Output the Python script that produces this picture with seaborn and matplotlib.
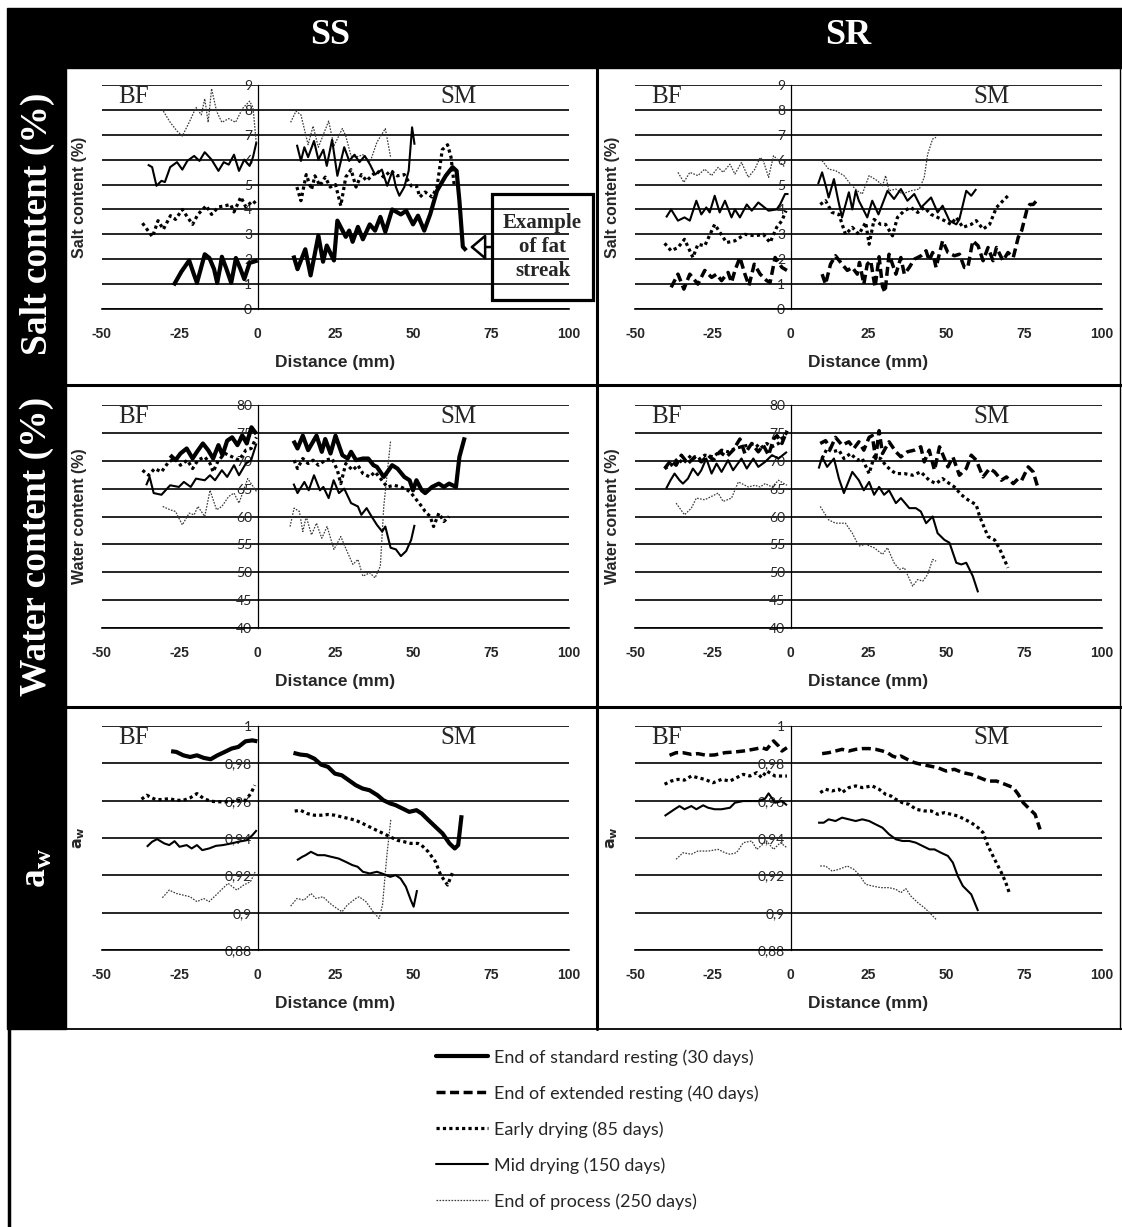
import matplotlib
matplotlib.use("Agg")
import matplotlib.pyplot as plt
from matplotlib.patches import Rectangle
from matplotlib.lines import Line2D
import numpy as np
import pandas as pd
import seaborn as sns

#%% Data (distance in mm, BF = negative side, SM = positive side)

# ---- SS, salt content (%)
ss_salt_30_bf_x = [-27, -24.5, -22, -20.5, -19.5, -18.3, -17, -15.5, -14, -13, -12, -11.5, -10, -8.5, -7.5, -7, -5.5, -4.3, -2.6, 0]
ss_salt_30_bf_y = [0.95, 1.5, 1.95, 1.4, 1.05, 1.6, 2.2, 2.05, 1.6, 1.05, 1.7, 2.1, 1.6, 1.05, 1.7, 2.05, 1.6, 1.2, 1.85, 1.95]
ss_salt_30_sm_x = [11.5, 12.8, 15.3, 17, 19.5, 21, 22.2, 24.5, 25.6, 28.3, 29.4, 30.5, 32.2, 33.8, 36, 37.7, 39.4, 41, 43.2, 46, 47.7, 49.9, 51.5, 53.5, 55.4, 57.6, 60.4, 62.6, 63.9, 64.8, 65.9, 67]
ss_salt_30_sm_y = [2.15, 1.6, 2.4, 1.35, 2.95, 1.9, 2.55, 1.95, 3.55, 2.9, 3.15, 2.7, 3.3, 2.8, 3.4, 3.15, 3.7, 3.1, 4.0, 3.8, 3.95, 3.4, 3.75, 3.15, 3.8, 4.75, 5.35, 5.7, 5.55, 4.35, 2.5, 2.35]
ss_salt_85_bf_x = [-37, -33.8, -32, -30.3, -28, -26.4, -24.2, -22.6, -20.9, -19.2, -16.5, -14.8, -12.6, -10.4, -8.7, -7.6, -5.4, -3.8, -1.5, 0]
ss_salt_85_bf_y = [3.45, 2.9, 3.55, 3.2, 3.75, 3.6, 4.0, 3.7, 3.4, 3.8, 4.15, 3.8, 4.1, 4.15, 4.2, 3.9, 4.5, 4.1, 4.35, 4.15]
ss_salt_85_sm_x = [12.6, 13.9, 15.6, 17.3, 18.4, 20, 21.7, 23.3, 25, 26.7, 28.3, 30, 31.6, 33.3, 35, 36.6, 38.3, 40.5, 42.7, 44.9, 47.1, 49.3, 51, 52.1, 53.8, 56, 57.6, 59.3, 61, 62.1, 63.2]
ss_salt_85_sm_y = [4.9, 4.35, 5.4, 4.8, 5.35, 4.95, 5.3, 4.9, 5.0, 4.15, 5.3, 5.6, 4.9, 5.4, 5.15, 5.35, 5.55, 5.3, 5.55, 5.35, 5.4, 4.95, 4.95, 4.5, 4.7, 4.5, 4.9, 6.4, 6.6, 6.1, 4.9]
ss_salt_150_bf_x = [-35.3, -33.9, -32.5, -30.9, -29.8, -28.1, -25.9, -24.2, -22.6, -20.4, -18.7, -17, -14.8, -12.6, -10.9, -9.3, -7.6, -6, -4.3, -2.6, -1.5, -0.4]
ss_salt_150_bf_y = [5.8, 5.7, 4.95, 5.15, 5.1, 5.7, 5.9, 5.6, 5.95, 6.15, 5.95, 6.3, 6.0, 5.55, 5.9, 5.8, 6.2, 5.55, 6.0, 5.75, 6.1, 6.7]
ss_salt_150_sm_x = [12.6, 13.9, 15, 16.2, 18.1, 19.5, 21.1, 22.2, 23.9, 25.6, 27.8, 29.4, 31.1, 32.7, 34.4, 36.1, 37.7, 39.9, 41.6, 43.3, 44.4, 45.5, 47.1, 48.5, 49.6, 50.4]
ss_salt_150_sm_y = [6.6, 5.95, 6.5, 6.1, 6.75, 6.0, 6.4, 5.75, 6.8, 5.35, 6.5, 5.95, 6.2, 5.9, 6.15, 5.8, 5.4, 5.6, 4.95, 5.55, 4.9, 4.55, 4.9, 5.55, 7.3, 6.6]
ss_salt_250_bf_x = [-30.3, -28.1, -25.9, -24.2, -22, -19.8, -18.1, -17, -15.9, -14.8, -13.2, -11.5, -9.3, -7.1, -4.9, -2.6, -1.5, -0.4]
ss_salt_250_bf_y = [7.95, 7.5, 7.15, 6.95, 7.5, 8.1, 7.8, 8.45, 7.5, 8.85, 7.95, 7.5, 7.65, 7.5, 8.05, 8.35, 8.1, 6.6]
ss_salt_250_sm_x = [10.6, 12.3, 13.9, 16.2, 17.8, 19.5, 22.8, 24.5, 27.2, 28.3, 30, 31.6, 33.8, 36.1, 38.3, 41, 42.7]
ss_salt_250_sm_y = [7.5, 7.95, 7.8, 6.6, 7.35, 6.5, 7.55, 6.55, 7.25, 6.95, 6.15, 6.1, 6.2, 5.9, 6.7, 7.25, 6.1]

# ---- SR, salt content (%)
sr_salt_40_bf_x = [-38.4, -36.2, -34.3, -32.4, -29.8, -27.6, -25.4, -23.8, -22.2, -20.1, -19, -17.9, -16.3, -14.7, -13.4, -11.7, -9.8, -7.7, -6.6, -5, -2.8, -1.2]
sr_salt_40_bf_y = [0.87, 1.4, 0.8, 1.4, 1.0, 1.55, 1.27, 1.4, 1.14, 1.47, 1.07, 1.55, 2.07, 1.4, 0.94, 1.8, 1.4, 1.14, 1.07, 2.07, 1.67, 1.55]
sr_salt_40_sm_x = [10.1, 11.2, 12.8, 14.4, 16.5, 18.2, 19.8, 21.4, 22.1, 23.5, 24.6, 25.7, 27.1, 28.4, 29.5, 30.3, 31.6, 33.8, 35.4, 36.5, 38.1, 39.7, 41.9, 43.5, 44.5, 45.6, 46.7, 48.8, 50.5, 52.6, 54.2, 55.8, 56.9, 58.5, 60.2, 61.8, 63.4, 65, 66.1, 68.2, 69.8, 71.5, 73.1, 74.2, 75.8, 76.8, 77.9, 79.5]
sr_salt_40_sm_y = [1.4, 1.0, 1.8, 2.14, 1.8, 1.55, 1.67, 1.4, 1.87, 1.0, 1.8, 1.94, 0.87, 2.1, 0.9, 0.67, 2.2, 1.4, 2.07, 1.4, 1.67, 2.0, 2.14, 2.34, 1.94, 2.27, 1.67, 2.74, 2.27, 2.14, 2.2, 1.67, 1.67, 2.74, 2.54, 1.94, 2.47, 1.94, 2.47, 1.94, 2.27, 2.07, 2.88, 3.15, 3.95, 4.2, 4.2, 4.42]
sr_salt_85_bf_x = [-40.5, -38.4, -36.2, -34.1, -31.4, -29.8, -27.6, -24.4, -20.6, -17.9, -14.7, -11.5, -8.8, -6.6, -4.5, -2.8, -1.5]
sr_salt_85_bf_y = [2.64, 2.34, 2.47, 2.8, 2.07, 2.6, 2.54, 3.4, 2.67, 2.74, 3.0, 2.94, 3.0, 2.67, 3.28, 3.55, 3.95]
sr_salt_85_sm_x = [9.5, 11.2, 13.3, 15.5, 17.6, 19.8, 21.9, 24.1, 25.2, 26.8, 28.9, 30.5, 32.7, 34.3, 36.5, 38.6, 40.8, 42.9, 45.1, 47.2, 49.4, 51.5, 53.2, 55.3, 58, 59.6, 61.8, 63.9, 66.1, 68.2, 69.8]
sr_salt_85_sm_y = [4.2, 4.35, 3.88, 3.8, 3.0, 3.28, 3.0, 3.48, 2.6, 3.6, 3.4, 3.4, 2.94, 3.68, 3.95, 4.08, 3.88, 4.08, 3.8, 3.68, 3.55, 3.4, 3.68, 3.28, 3.4, 3.55, 3.21, 3.4, 4.08, 4.35, 4.55]
sr_salt_150_bf_x = [-40, -38.4, -36.2, -34.1, -32.4, -30.3, -28.7, -27.1, -26, -24.4, -22.8, -21.1, -19, -17.9, -16.3, -14.1, -12.5, -10.4, -7.1, -4.5, -3.4, -1.8, -0.7]
sr_salt_150_bf_y = [3.68, 4.0, 3.55, 3.68, 3.55, 4.35, 3.8, 4.08, 3.88, 4.55, 3.88, 4.35, 3.68, 4.0, 3.68, 4.2, 3.95, 4.28, 3.95, 4.0, 4.2, 4.62, 4.62]
sr_salt_150_sm_x = [8.8, 10.1, 11.4, 12.2, 13.9, 15.3, 16.5, 18.7, 19.8, 20.9, 21.9, 23, 24.6, 26.2, 28.2, 31.1, 33.2, 35.4, 37.5, 39.7, 41.9, 45.1, 47.2, 48.8, 51, 53.2, 54.2, 56.4, 58, 59.6]
sr_salt_150_sm_y = [5.02, 5.49, 4.89, 4.48, 5.22, 4.35, 3.68, 4.69, 4.0, 4.75, 4.35, 4.08, 3.68, 4.35, 3.8, 4.75, 4.42, 4.82, 4.35, 4.62, 4.08, 4.48, 3.88, 4.15, 3.55, 3.4, 3.61, 4.75, 4.55, 4.82]
sr_salt_250_bf_x = [-36.2, -34.3, -32.4, -29.8, -27.6, -25.4, -23.3, -21.7, -19.5, -17.9, -15.8, -13.6, -11.5, -9.8, -8.8, -7.1, -5.5, -3.9, -1.8]
sr_salt_250_bf_y = [5.49, 5.09, 5.49, 5.36, 5.62, 5.36, 5.69, 5.49, 5.82, 5.42, 5.89, 5.29, 5.62, 6.09, 5.96, 5.29, 6.16, 5.96, 5.69]
sr_salt_250_sm_x = [10.1, 12.2, 14.4, 17.1, 19.2, 21.4, 23, 25.2, 27.9, 29.5, 30.5, 31.6, 33.8, 35.9, 38.6, 41.3, 42.9, 44, 45.6, 46.7]
sr_salt_250_sm_y = [5.96, 5.62, 5.56, 5.36, 5.02, 4.75, 4.62, 5.36, 5.15, 4.95, 5.36, 4.75, 4.82, 4.62, 4.75, 4.82, 5.29, 6.22, 6.83, 6.9]

# ---- SS, water content (%)
ss_water_30_bf_x = [-28.1, -26.4, -24.8, -22.8, -20.9, -19.5, -17.6, -15.9, -14.3, -12.6, -11.3, -9.8, -8.2, -6.5, -4.9, -3.5, -2, -0.4]
ss_water_30_bf_y = [71.0, 70.1, 71.3, 72.2, 70.4, 71.6, 73.1, 71.9, 70.4, 72.8, 71.0, 73.6, 74.2, 72.8, 74.5, 73.1, 76.0, 74.8]
ss_water_30_sm_x = [11.5, 12.8, 14.5, 16.2, 18.9, 20.6, 21.7, 23.4, 25, 27.2, 28.9, 30, 31.6, 33.8, 35.5, 37.2, 38.3, 40.5, 43.2, 44.9, 47.1, 48.8, 49.9, 51, 52.7, 53.8, 56, 58.2, 59.8, 61.5, 63.7, 64.8, 66.5]
ss_water_30_sm_y = [73.6, 72.2, 74.5, 71.9, 74.5, 71.6, 73.9, 71.3, 74.5, 71.0, 70.4, 71.6, 70.1, 70.4, 70.4, 69.2, 68.9, 67.1, 69.2, 68.6, 67.1, 66.5, 64.7, 66.5, 64.7, 64.2, 65.3, 65.9, 65.3, 65.9, 65.3, 70.7, 74.2]
ss_water_85_bf_x = [-37, -35, -33.1, -30.9, -28.6, -26.4, -24.8, -22.6, -20.9, -19.2, -17, -15.3, -14.3, -12.6, -10.4, -8.2, -6, -3.8, -2.1, -0.4]
ss_water_85_bf_y = [68.3, 67.4, 68.6, 68.0, 69.8, 70.4, 69.2, 70.1, 68.6, 70.1, 70.7, 69.5, 68.0, 70.1, 71.3, 70.7, 70.1, 71.9, 72.2, 74.2]
ss_water_85_sm_x = [11.7, 12.8, 14.5, 16.2, 17.8, 19.5, 21.7, 23.9, 25.6, 26.7, 28.3, 30.5, 32.2, 33.8, 36, 37.7, 39.9, 41.6, 43.8, 46, 48.2, 49.3, 51, 52.7, 53.8, 55.4, 56.5, 58.2, 59.8, 61.5]
ss_water_85_sm_y = [70.1, 68.6, 70.4, 69.5, 70.1, 69.2, 70.1, 70.4, 68.3, 65.9, 69.5, 68.3, 69.2, 67.7, 67.1, 68.0, 66.5, 65.3, 65.6, 65.3, 64.7, 64.2, 63.0, 61.8, 60.9, 60.0, 58.2, 60.6, 59.1, 60.0]
ss_water_150_bf_x = [-35.8, -34.7, -33.4, -30.9, -28.1, -25.3, -23.7, -21.5, -19.8, -17, -15.3, -13.7, -11.5, -9.8, -7.6, -6, -3.8, -2.1, -0.4]
ss_water_150_bf_y = [65.6, 67.1, 64.2, 63.9, 65.6, 65.3, 66.2, 65.3, 66.8, 66.5, 67.4, 66.5, 68.3, 67.1, 69.2, 67.4, 69.5, 70.1, 73.1]
ss_water_150_sm_x = [11.5, 12.8, 15, 16.4, 18.1, 20, 21.1, 22.8, 24.4, 26.1, 27.8, 30, 32.2, 33.3, 35, 36.6, 38.3, 40, 41, 42.7, 44.4, 46, 47.7, 49.3, 50.4]
ss_water_150_sm_y = [65.9, 64.2, 66.2, 64.7, 67.4, 64.7, 65.3, 63.3, 66.5, 64.2, 65.0, 62.4, 61.8, 60.3, 61.5, 60.0, 58.5, 57.3, 58.2, 54.4, 54.1, 52.9, 53.8, 55.8, 58.5]
ss_water_250_bf_x = [-30.5, -28.1, -26.4, -24.2, -22, -20.4, -19.2, -17, -15.3, -13.2, -11.5, -9.3, -7.6, -6, -3.2, -0.4]
ss_water_250_bf_y = [61.8, 61.2, 60.9, 58.5, 60.6, 60.3, 61.8, 60.0, 64.7, 61.2, 61.8, 63.6, 64.2, 62.4, 66.8, 64.5]
ss_water_250_sm_x = [10.4, 11.7, 13.4, 14.5, 15.6, 17.3, 18.9, 20.6, 22.3, 24.5, 26.7, 28.9, 30.6, 32.2, 33.8, 36, 37.7, 39.4, 40.5, 42.7]
ss_water_250_sm_y = [58.2, 61.5, 60.9, 57.3, 60.0, 56.7, 58.8, 56.1, 58.2, 54.1, 56.4, 53.5, 51.4, 52.3, 49.3, 49.9, 49.0, 51.1, 61.8, 73.6]

# ---- SR, water content (%)
sr_water_40_bf_x = [-40.5, -38.4, -36.8, -35.1, -33, -30.8, -28.7, -26.5, -24.9, -22.8, -20.6, -18.5, -16.3, -14.7, -12.5, -10.4, -8.8, -7.1, -5.5, -4.4, -2.8, -1.2]
sr_water_40_bf_y = [68.6, 70.1, 69.2, 71.0, 69.5, 70.7, 69.8, 71.0, 70.1, 71.6, 70.7, 71.9, 73.9, 71.3, 73.1, 71.6, 72.8, 71.0, 73.9, 74.5, 73.1, 75.4]
sr_water_40_sm_x = [9.5, 11.2, 12.8, 14.4, 16.5, 18.7, 20.3, 21.9, 23.5, 25.2, 26.2, 27.3, 28.4, 29.5, 31.6, 33.8, 35.4, 37.5, 39.7, 41.8, 42.9, 44.5, 46.2, 47.8, 49.4, 50.5, 52.1, 54.2, 56.4, 58, 59.6, 61.8, 63.9, 65.5, 67.7, 69.3, 71.5, 73.1, 74.2, 76.3, 77.9, 79.5]
sr_water_40_sm_y = [73.1, 73.6, 72.2, 74.2, 72.8, 73.4, 72.2, 73.4, 71.9, 74.2, 74.5, 70.4, 75.4, 71.3, 73.4, 71.6, 70.7, 71.6, 71.9, 72.5, 69.8, 71.9, 68.3, 72.5, 70.4, 68.9, 70.7, 67.4, 68.6, 71.0, 70.1, 67.1, 68.6, 68.0, 66.5, 67.1, 65.9, 66.8, 66.5, 68.9, 68.0, 65.0]
sr_water_85_bf_x = [-40.5, -38.4, -36.2, -34.6, -31.9, -29.8, -27.6, -24.9, -22.2, -20.1, -17.9, -15.8, -13.6, -11.5, -9.8, -7.7, -6, -3.9, -1.2]
sr_water_85_bf_y = [68.6, 69.2, 70.4, 69.5, 71.0, 70.1, 71.0, 70.7, 71.9, 71.6, 72.2, 72.5, 72.8, 73.1, 72.2, 73.1, 72.5, 73.1, 75.1]
sr_water_85_sm_x = [10.1, 11.7, 13.3, 15.5, 17.1, 19.2, 21.4, 23, 25.2, 26.8, 28.9, 30.5, 32.2, 33.8, 36.5, 39.2, 41.8, 44.5, 46.7, 48.8, 51, 52.6, 54.8, 56.9, 59.6, 60.7, 63.4, 65.5, 67.2, 69.8]
sr_water_85_sm_y = [70.4, 72.2, 71.6, 71.9, 70.4, 71.3, 70.1, 70.4, 67.7, 70.7, 70.4, 69.2, 68.3, 67.7, 67.7, 67.4, 68.0, 66.5, 65.9, 66.8, 65.9, 65.3, 63.9, 63.0, 62.1, 60.0, 56.4, 55.8, 54.1, 50.8]
sr_water_150_bf_x = [-40, -38.6, -37.3, -35.7, -34.6, -33, -31.4, -29.8, -28.7, -27.1, -25.4, -23.8, -22.2, -20.1, -18.5, -15.8, -14.1, -12, -10.4, -8.2, -6, -3.9, -1.2]
sr_water_150_bf_y = [65.0, 66.5, 67.7, 66.5, 65.9, 66.8, 68.6, 67.4, 68.3, 70.4, 67.7, 69.5, 68.0, 70.1, 68.3, 70.4, 68.6, 70.4, 68.9, 69.8, 71.0, 70.4, 71.6]
sr_water_150_sm_x = [9, 10.1, 11.7, 13.9, 15.5, 17.1, 19.8, 21.9, 23.5, 25.2, 26.8, 28.4, 30, 31.6, 33.8, 35.4, 38.1, 40.2, 41.8, 43.5, 45.6, 47.2, 49.4, 51, 53.2, 54.8, 56.4, 58.5, 60.2]
sr_water_150_sm_y = [68.6, 70.7, 68.9, 70.4, 66.8, 64.2, 68.0, 66.5, 64.7, 66.2, 63.9, 65.3, 63.9, 64.7, 62.4, 63.3, 61.5, 61.5, 60.9, 58.8, 60.0, 57.0, 55.8, 55.3, 51.7, 51.4, 51.7, 49.3, 46.4]
sr_water_250_bf_x = [-36.8, -34.1, -31.9, -30.3, -27.6, -23.3, -21.7, -19, -16.8, -13.6, -11.5, -9.8, -8.2, -6, -3.9, -1.2]
sr_water_250_bf_y = [62.4, 60.3, 61.5, 63.3, 63.0, 64.2, 62.7, 63.3, 66.2, 65.3, 65.6, 65.3, 65.9, 65.3, 66.5, 65.6]
sr_water_250_sm_x = [9.5, 12.2, 14.4, 17.6, 19.8, 21.9, 24.1, 26.8, 29.5, 31.1, 33.2, 34.9, 36.5, 39.2, 40.8, 42.4, 44, 45.6, 46.7]
sr_water_250_sm_y = [61.8, 59.4, 58.8, 58.8, 57.0, 54.7, 55.0, 54.4, 53.2, 54.4, 51.7, 50.5, 50.8, 47.5, 48.7, 48.4, 49.6, 52.3, 52.0]

# ---- SS, water activity
ss_aw_30_bf_x = [-27.8, -26.1, -23.9, -21.7, -19.5, -17.3, -15.1, -12.9, -10.6, -8.4, -6.2, -3.9, -1.7, -0.1]
ss_aw_30_bf_y = [0.9865, 0.9861, 0.9843, 0.9834, 0.9843, 0.9829, 0.9822, 0.9843, 0.9861, 0.9879, 0.9888, 0.9918, 0.9923, 0.9918]
ss_aw_30_sm_x = [11.5, 13.7, 15.9, 18.2, 20.4, 22.6, 24.8, 27, 29.3, 31.5, 33.7, 35.9, 38.5, 40.4, 42.6, 44.3, 46.5, 48.7, 51, 52.7, 54.9, 57.1, 59.4, 61.6, 63.3, 64.4, 65.5]
ss_aw_30_sm_y = [0.9856, 0.9847, 0.9843, 0.9825, 0.9793, 0.9781, 0.9745, 0.9736, 0.9709, 0.9683, 0.9665, 0.9656, 0.9629, 0.9602, 0.9585, 0.9576, 0.9558, 0.954, 0.9549, 0.9531, 0.9495, 0.946, 0.9424, 0.9371, 0.9344, 0.9362, 0.9522]
ss_aw_85_bf_x = [-37.3, -35.6, -32.8, -30.6, -28.4, -26.2, -23.9, -21.7, -19.5, -17.3, -15.1, -12.9, -10.6, -8.4, -6.2, -3.9, -2.2, -0.9]
ss_aw_85_bf_y = [0.9608, 0.9629, 0.9606, 0.9606, 0.9611, 0.9602, 0.9602, 0.9615, 0.9638, 0.9611, 0.9597, 0.9594, 0.9594, 0.9594, 0.9602, 0.9602, 0.9638, 0.9683]
ss_aw_85_sm_x = [11.9, 13.7, 15.9, 18.2, 20.4, 22.6, 24.8, 27, 29.3, 31.5, 33.7, 35.9, 38.1, 40.4, 42.6, 44.8, 47, 49.2, 51.5, 52.6, 54.8, 57.1, 58.8, 61, 62.7]
ss_aw_85_sm_y = [0.9544, 0.9549, 0.9531, 0.9522, 0.9522, 0.9526, 0.9522, 0.9513, 0.9504, 0.9495, 0.9478, 0.946, 0.9442, 0.9424, 0.9406, 0.9388, 0.938, 0.9371, 0.9371, 0.9362, 0.9326, 0.9273, 0.9201, 0.9148, 0.9219]
ss_aw_150_bf_x = [-35.6, -33.9, -32.3, -30, -28.4, -26.7, -25.1, -22.8, -21.2, -19.5, -17.8, -15.6, -13.4, -11.2, -8.4, -6.2, -3.5, -1.7, -0.3]
ss_aw_150_bf_y = [0.9353, 0.938, 0.9394, 0.9371, 0.9362, 0.9383, 0.9353, 0.9362, 0.9344, 0.9362, 0.9335, 0.9344, 0.9358, 0.9362, 0.9371, 0.938, 0.9388, 0.9415, 0.9442]
ss_aw_150_sm_x = [12.6, 14.3, 15.4, 17.1, 19.3, 21.5, 23.7, 26, 28.2, 30.4, 32.1, 33.8, 36, 38.3, 39.9, 42.6, 44.3, 45.9, 47.6, 49.2, 50.1, 51.2]
ss_aw_150_sm_y = [0.9281, 0.9299, 0.9308, 0.9326, 0.9308, 0.9308, 0.9299, 0.929, 0.9273, 0.9255, 0.9246, 0.9219, 0.921, 0.9219, 0.921, 0.9192, 0.9201, 0.9183, 0.9139, 0.9067, 0.9032, 0.9121]
ss_aw_250_bf_x = [-30.6, -28.4, -26.2, -23.9, -21.7, -19.5, -17.3, -15.6, -13.4, -11.2, -9.5, -6.7, -4.5, -2.3, -0.8]
ss_aw_250_bf_y = [0.908, 0.9121, 0.9103, 0.9094, 0.9085, 0.9059, 0.9076, 0.9059, 0.9094, 0.913, 0.9157, 0.9121, 0.9148, 0.9166, 0.9219]
ss_aw_250_sm_x = [10.6, 12.6, 14.9, 17.1, 18.7, 21, 23.2, 25.4, 27.1, 28.8, 31.5, 32.6, 34.8, 37.1, 39, 40.1, 41.5, 42.8]
ss_aw_250_sm_y = [0.9035, 0.9076, 0.9067, 0.9103, 0.9076, 0.9085, 0.905, 0.9023, 0.9005, 0.9041, 0.9076, 0.9085, 0.9059, 0.9005, 0.8969, 0.9041, 0.9308, 0.9504]

# ---- SR, water activity
sr_aw_40_bf_x = [-38.9, -36.8, -34.6, -31.9, -29.8, -27.1, -24.4, -21.1, -17.9, -15.2, -12, -9.3, -7.7, -5.5, -3.9, -2.8, -1.2]
sr_aw_40_bf_y = [0.9843, 0.9857, 0.9857, 0.9848, 0.9852, 0.9843, 0.9845, 0.9857, 0.9861, 0.9866, 0.9875, 0.9884, 0.9875, 0.992, 0.9893, 0.9866, 0.9884]
sr_aw_40_sm_x = [10.1, 12.2, 14.4, 16.5, 18.7, 20.9, 23, 25.2, 27.3, 29.5, 31.1, 32.7, 34.3, 35.4, 37.5, 39.7, 41.8, 44.5, 47.2, 49.9, 52.6, 55.3, 58, 60.7, 63.4, 66.1, 68.8, 71.5, 73.1, 74.7, 76.8, 78.5, 80.1]
sr_aw_40_sm_y = [0.9852, 0.9857, 0.9866, 0.9875, 0.9866, 0.9875, 0.9879, 0.9879, 0.9875, 0.9866, 0.9857, 0.9839, 0.983, 0.9839, 0.9821, 0.9804, 0.9795, 0.9786, 0.9777, 0.9759, 0.9768, 0.975, 0.9741, 0.9723, 0.9705, 0.9705, 0.9688, 0.967, 0.9634, 0.9589, 0.9554, 0.9527, 0.9446]
sr_aw_85_bf_x = [-40.5, -38.4, -36.2, -34.1, -31.9, -29.8, -27.6, -24.9, -22.2, -19.5, -17.4, -15.2, -13.1, -10.9, -9.3, -7.7, -5, -1.2]
sr_aw_85_bf_y = [0.9688, 0.9705, 0.9714, 0.971, 0.9732, 0.9723, 0.9714, 0.9696, 0.9714, 0.9705, 0.9723, 0.9741, 0.9732, 0.975, 0.9723, 0.9759, 0.9732, 0.9732]
sr_aw_85_sm_x = [9.5, 11.2, 13.3, 15.5, 16.5, 18.7, 20.9, 23, 26.2, 28.4, 30.5, 32.2, 33.8, 35.9, 38.1, 40.2, 42.9, 45.1, 47.2, 49.4, 51.5, 53.7, 55.9, 58, 60.2, 61.8, 63.4, 65.5, 67.7, 69.1, 70.4]
sr_aw_85_sm_y = [0.9643, 0.9661, 0.9652, 0.9661, 0.9643, 0.967, 0.9679, 0.967, 0.9679, 0.9661, 0.9634, 0.9625, 0.9607, 0.9589, 0.958, 0.9554, 0.9545, 0.9545, 0.9527, 0.9536, 0.9527, 0.9518, 0.95, 0.9482, 0.9455, 0.9429, 0.9357, 0.9286, 0.9214, 0.9161, 0.9098]
sr_aw_150_bf_x = [-40.5, -38.9, -37.3, -35.7, -34.1, -31.9, -30.3, -28.1, -26.5, -24.4, -22.2, -19.5, -17.9, -15.2, -12.5, -10.4, -8.2, -7.1, -5, -2.8, -1.2]
sr_aw_150_bf_y = [0.9518, 0.9536, 0.9554, 0.9571, 0.9554, 0.9571, 0.9554, 0.9575, 0.9562, 0.9554, 0.9554, 0.9562, 0.9589, 0.9598, 0.9598, 0.9598, 0.9611, 0.9639, 0.9589, 0.9598, 0.9575]
sr_aw_150_sm_x = [8.8, 10.6, 12.2, 14.4, 16.5, 18.7, 20.9, 23, 25.2, 27.3, 29.5, 31.6, 33.8, 35.9, 38.1, 40.2, 42.4, 44.6, 46.2, 48.3, 50.5, 52.1, 53.7, 55.3, 58, 60.2]
sr_aw_150_sm_y = [0.9482, 0.9482, 0.95, 0.9491, 0.9509, 0.95, 0.9491, 0.95, 0.9491, 0.9473, 0.9455, 0.942, 0.9393, 0.9384, 0.9384, 0.9375, 0.9357, 0.9339, 0.9339, 0.9321, 0.9304, 0.9268, 0.9196, 0.9143, 0.9098, 0.9009]
sr_aw_250_bf_x = [-36.8, -34.6, -31.9, -29.8, -26.5, -23.3, -21.1, -19.5, -17.4, -15.2, -12.5, -10.9, -7.7, -5.5, -3.3, -1.2]
sr_aw_250_bf_y = [0.9286, 0.9321, 0.9313, 0.933, 0.933, 0.9339, 0.9321, 0.9313, 0.9321, 0.9375, 0.9384, 0.9339, 0.9384, 0.9339, 0.9375, 0.9348]
sr_aw_250_sm_x = [9.5, 11.2, 13.3, 15.5, 18.2, 20.3, 21.9, 24.1, 26.2, 28.9, 31.6, 33.8, 35.4, 37, 38.6, 40.8, 42.9, 44.6, 46.7]
sr_aw_250_sm_y = [0.925, 0.925, 0.9223, 0.9232, 0.925, 0.9232, 0.9205, 0.9152, 0.9143, 0.9134, 0.9134, 0.9125, 0.9107, 0.9129, 0.9089, 0.9054, 0.9027, 0.9, 0.8964]

# Legend labels and column / row headers
series_labels = {
    '30': 'End of standard resting (30 days)',
    '40': 'End of extended resting (40 days)',
    '85': 'Early drying (85 days)',
    '150': 'Mid drying (150 days)',
    '250': 'End of process (250 days)',
}
col_titles = ['SS', 'SR']
row_titles = ['Salt content (%)', 'Water content (%)', r'a$_\mathregular{w}$']
y_labels = ['Salt content (%)', 'Water content (%)', r'$\mathbf{a_w}$']
x_ticks = [-50, -25, 0, 25, 50, 75, 100]
y_ticks = [list(range(0, 10)), list(range(40, 85, 5)), [0.88, 0.9, 0.92, 0.94, 0.96, 0.98, 1.0]]
y_limits = [(0, 9), (40, 80), (0.88, 1.0)]

#%% Line styles (greyscale, as in the paper)
line_styles = {
    '30': dict(color='black', lw=3.0, ls='-'),
    '40': dict(color='black', lw=2.5, ls=(0, (2.6, 1.3))),
    '85': dict(color='black', lw=2.3, ls=(0, (1.0, 1.0))),
    '150': dict(color='black', lw=1.5, ls='-'),
    '250': dict(color='#3a3a3a', lw=0.9, ls=(0, (1.3, 1.1))),
}

G = globals()
def segments(var, col, key):
    '''collect BF and SM segments for one series'''
    prefix = f'{col}_{var}_{key}'
    return [(G[prefix + '_bf_x'], G[prefix + '_bf_y']),
            (G[prefix + '_sm_x'], G[prefix + '_sm_y'])]

#%% Figure
sns.set_style("white")
plt.rcParams['font.family'] = ['Lato', 'DejaVu Sans']
plt.rcParams['mathtext.fontset'] = 'dejavusans'
axis_font = dict(family='Liberation Sans', fontweight='bold')

W, H = 1122, 1227
fig = plt.figure(figsize=(W / 100, H / 100), dpi=100)
fx = lambda px: px / W
fy = lambda py: 1 - py / H

# black header row and left column
fig.add_artist(Rectangle((fx(7), fy(68)), fx(1122) - fx(7), fy(8) - fy(68),
                         transform=fig.transFigure, color='black', zorder=0))
fig.add_artist(Rectangle((fx(7), fy(1029)), fx(66) - fx(7), fy(68) - fy(1029),
                         transform=fig.transFigure, color='black', zorder=0))
# panel dividers
for py, lw in [(385, 2.2), (707, 2.2), (1029, 1.3)]:
    fig.add_artist(Line2D([fx(66), fx(1122)], [fy(py), fy(py)], color='black', lw=lw,
                          transform=fig.transFigure))
fig.add_artist(Line2D([fx(597), fx(597)], [fy(68), fy(1029)], color='black', lw=2.2,
                      transform=fig.transFigure))
fig.add_artist(Line2D([fx(1120), fx(1120)], [fy(68), fy(1029)], color='black', lw=1.0,
                      transform=fig.transFigure))
fig.add_artist(Line2D([fx(8.5), fx(8.5)], [fy(1029), fy(1227)], color='black', lw=2.5,
                      transform=fig.transFigure))

for text, px in zip(col_titles, [330, 848]):
    fig.text(fx(px), fy(36), text, color='white', fontsize=26, fontweight='bold',
             family='Liberation Serif', ha='center', va='center')
for text, py in zip(row_titles, [224, 546, 868]):
    fig.text(fx(37), fy(py), text, color='white', fontsize=27, fontweight='bold',
             family='Liberation Serif', ha='center', va='center', rotation=90)

col_left = [102, 635]
row_top = [85, 405, 726]
row_bot = [309, 628, 950]
variables = ['salt', 'water', 'aw']

for r, var in enumerate(variables):
    for c, col in enumerate(['ss', 'sr']):
        ax = fig.add_axes([fx(col_left[c]), fy(row_bot[r]), 467 / W, (row_bot[r] - row_top[r]) / H])
        ax.set_facecolor('none')
        keys = ['30', '85', '150', '250'] if col == 'ss' else ['40', '85', '150', '250']
        for key in keys[::-1]:
            st = line_styles[key]
            for xs, ys in segments(var, col, key):
                sns.lineplot(x=xs, y=ys, ax=ax, sort=False, estimator=None,
                             color=st['color'], linewidth=st['lw'], linestyle=st['ls'],
                             solid_capstyle='butt', dash_capstyle='butt')

        ax.set_xlim(-50, 100)
        ax.set_ylim(*y_limits[r])
        ax.set_xticks(x_ticks, labels=[str(v) for v in x_ticks], fontsize=10, **axis_font)
        yl = [f'{v:g}'.replace('.', ',') for v in y_ticks[r]]
        ax.set_yticks(y_ticks[r], labels=yl, fontsize=9.5, **axis_font)
        ax.grid(axis='y', color='black', lw=1.2)
        ax.set_axisbelow(True)
        ax.spines['top'].set_visible(False)
        ax.spines['right'].set_visible(False)
        ax.spines['left'].set_position(('data', 0))
        ax.spines['left'].set_linewidth(0.9)
        ax.spines['bottom'].set_linewidth(1.2)
        ax.spines['left'].set_color('black')
        ax.spines['bottom'].set_color('black')
        ax.tick_params(axis='y', length=3, width=0.9, pad=1, color='black')
        ax.tick_params(axis='x', length=4, width=1, pad=11, color='black', direction='inout')
        ax.set_xlabel('Distance (mm)', fontsize=12.5, labelpad=10, **axis_font)
        ax.set_ylabel(y_labels[r], fontsize=11.5, **axis_font)
        ax.yaxis.set_label_coords(-0.032, 0.5)

        ax.text(0.035, 0.945, 'BF', transform=ax.transAxes, family='Liberation Serif',
                fontsize=18, ha='left', va='center')
        ax.text(0.725, 0.945, 'SM', transform=ax.transAxes, family='Liberation Serif',
                fontsize=18, ha='left', va='center')

        if r == 0 and c == 0:
            # "Example of fat streak" call-out
            ax.add_patch(Rectangle((75.3, 0.36), 32.4, 4.26, fill=False, lw=2.3,
                                   ec='black', clip_on=False))
            ax.text(91.5, 2.49, 'Example\nof fat\nstreak', ha='center', va='center',
                    family='Liberation Serif', fontweight='bold', fontsize=15,
                    linespacing=1.25, clip_on=False)
            ax.annotate('', xy=(68.2, 2.49), xytext=(75.3, 2.49),
                        arrowprops=dict(arrowstyle='-|>,head_length=0.95,head_width=0.8',
                                        fc='white', ec='black', lw=1.8,
                                        shrinkA=0, shrinkB=0))

# legend
handles = [Line2D([], [], **{k: v for k, v in line_styles[key].items()}, label=series_labels[key])
           for key in ['30', '40', '85', '150', '250']]
fig.legend(handles=handles, loc='upper left', bbox_to_anchor=(fx(436), fy(1049)),
           frameon=False, fontsize=13, handlelength=2.9, handletextpad=0.3,
           labelspacing=1.08, borderpad=0, borderaxespad=0)

fig.savefig('out.png', dpi=100, facecolor='white')
